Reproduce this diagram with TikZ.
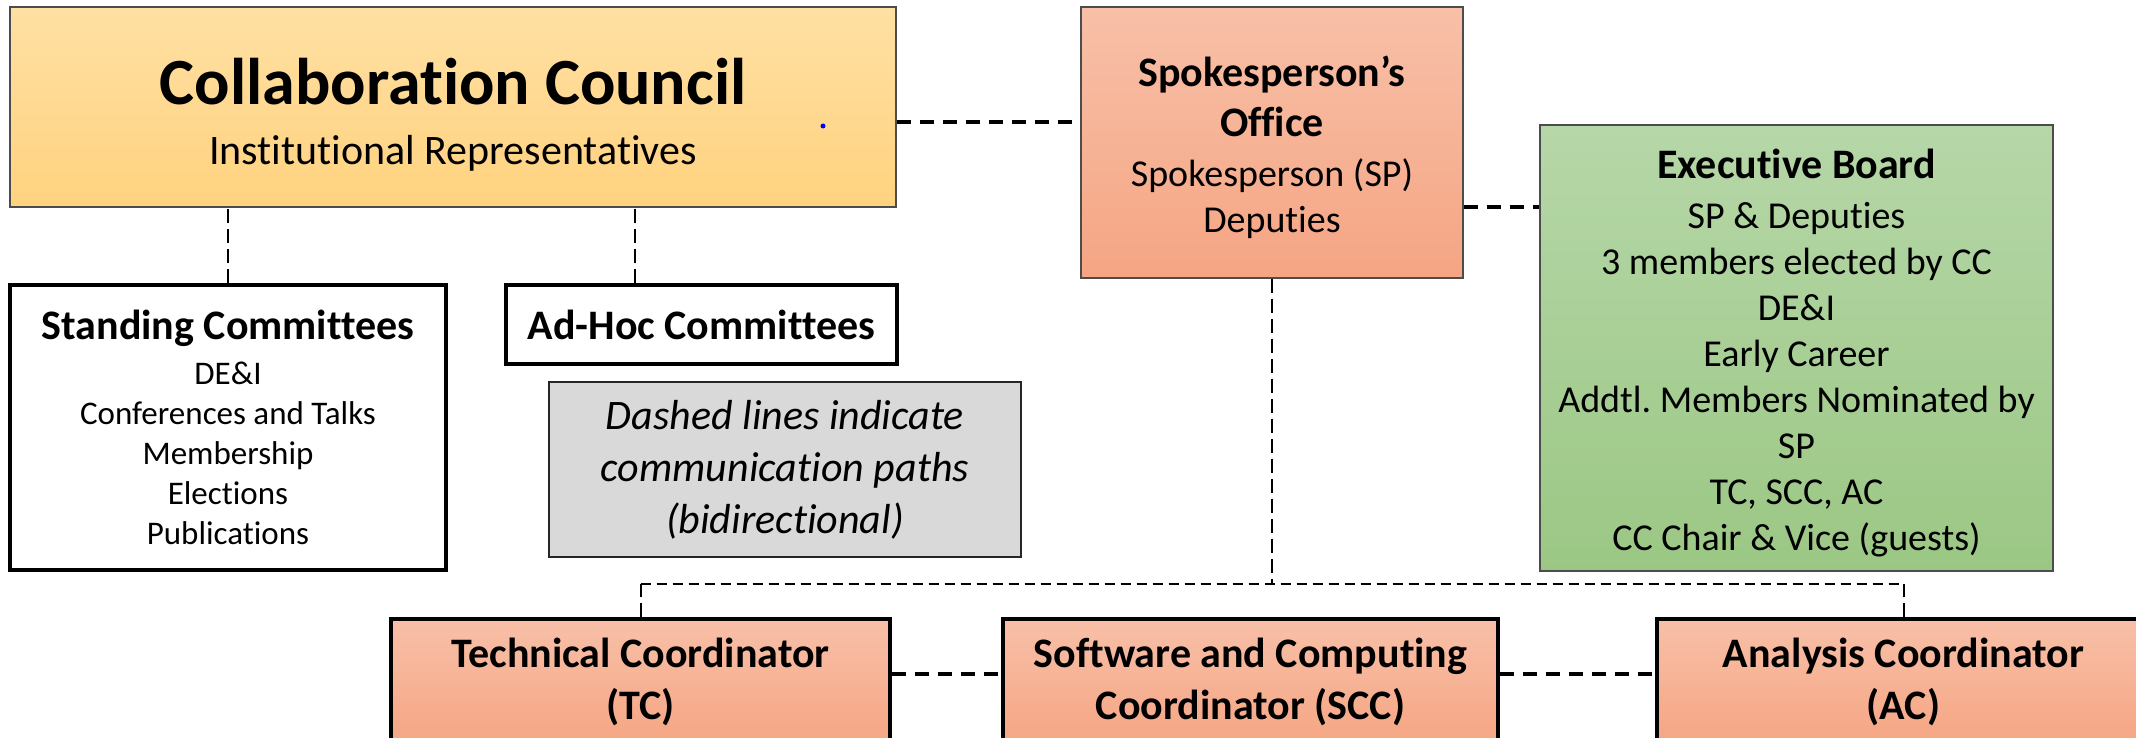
\documentclass[tikz,border=0pt]{standalone}
\usepackage{fontspec}
\setmainfont{Carlito}[Ligatures={NoCommon}]
\usetikzlibrary{positioning, calc}

\definecolor{councilTop}{HTML}{FFE0A3}
\definecolor{councilBot}{HTML}{FFD27F}
\definecolor{officeTop}{HTML}{F8C0A8}
\definecolor{officeBot}{HTML}{F5A583}
\definecolor{boardTop}{HTML}{B6D7A8}
\definecolor{boardBot}{HTML}{9BC784}
\definecolor{noteGray}{HTML}{D9D9D9}

\newcommand{\headline}[1]{{\fontsize{21}{25}\selectfont\bfseries #1}}

\begin{document}
\frenchspacing
\begin{tikzpicture}[
    x=0.5pt, y=-0.5pt,
    font=\fontsize{19}{23}\selectfont,
    box/.style={rectangle, inner sep=0pt, align=center},
    council/.style={box, draw=black!70, line width=0.75pt, top color=councilTop, bottom color=councilBot},
    office/.style={box, draw=black!70, line width=0.6pt, top color=officeTop, bottom color=officeBot},
    board/.style={box, draw=black!70, line width=0.6pt, top color=boardTop, bottom color=boardBot},
    committee/.style={box, draw=black, line width=1.75pt, fill=white},
    coord/.style={box, draw=black, line width=1.75pt, top color=officeTop, bottom color=officeBot, minimum height=63pt, font=\fontsize{21}{26}\selectfont\bfseries},
    note/.style={box, draw=black!85, line width=1.25pt, fill=noteGray, font=\fontsize{21}{26}\selectfont\itshape},
    link/.style={draw=black, line width=1.75pt, dash pattern=on 7pt off 4.5pt},
    comm/.style={draw=black, line width=1pt, dash pattern=on 7pt off 3pt},
    bus/.style={draw=black, line width=1.1pt, dash pattern=on 5pt off 3pt},
]
\useasboundingbox (0,0) rectangle (2136,738);
\clip (0,0) rectangle (2136,738);

% Council and its committees
\node[council, minimum width=443pt, minimum height=100pt, font=\fontsize{21}{30}\selectfont] (CC) at (453,107)
    {\rule{0pt}{31pt}{\fontsize{33}{40}\selectfont\bfseries Collaboration Council}\\Institutional Representatives};
\fill[blue] (823,126) circle (2.5);

\node[committee, minimum width=218pt, minimum height=142.5pt, font=\fontsize{16.5}{20}\selectfont] (SC) at (228,427.5)
    {\headline{Standing Committees}\\[2.5pt]DE\&I\\Conferences and Talks\\Membership\\Elections\\Publications};
\node[committee, minimum width=195.5pt, minimum height=39.5pt, font=\fontsize{21}{25}\selectfont\bfseries] (AH) at (701.5,324.5)
    {Ad-Hoc Committees};

% Legend
\node[note, minimum width=236pt, minimum height=87.5pt] (NT) at (785,469.5)
    {Dashed lines indicate\\communication paths\\(bidirectional)};

% Spokesperson and board
\node[office, minimum width=191pt, minimum height=135.5pt] (SP) at (1272,142.5)
    {\rule{0pt}{20pt}\headline{Spokesperson's}\\[2pt]\headline{Office}\\[2pt]Spokesperson (SP)\\Deputies};
\node[board, minimum width=256.5pt, minimum height=223pt] (EB) at (1796.5,348)
    {\rule{0pt}{20pt}\headline{Executive Board}\\[2pt]SP \& Deputies\\3 members elected by CC\\DE\&I\\Early Career\\Addtl.\ Members Nominated by\\SP\\TC, SCC, AC\\CC Chair \& Vice (guests)};

% Coordinators
\node[coord, minimum width=249.5pt] (TC) at (640.5,682) {Technical Coordinator\\(TC)};
\node[coord, minimum width=247.5pt] (SCC) at (1250.5,682) {Software and Computing\\Coordinator (SCC)};
\node[coord, minimum width=246.5pt] (AC) at (1903.5,682) {Analysis Coordinator\\(AC)};

% Communication paths
\coordinate (cc-sp) at ($(CC.east)+(0,15)$);
\draw[link] (cc-sp) -- (cc-sp -| SP.west);
\draw[comm] (SC.north) -- (SC.north |- CC.south);
\coordinate (cc-ah) at ($(AH.north)+(-66.5,0)$);
\draw[comm] (cc-ah) -- (cc-ah |- CC.south);

\coordinate (sp-eb) at ($(SP.east)+(0,64.5)$);
\draw[link] (sp-eb) -- (sp-eb -| EB.west);

\coordinate (bus) at ($(SP.south)+(0,305)$);
\draw[comm] (SP.south) -- (bus);
\draw[bus] (TC.north |- bus) -- (AC.north |- bus);
\draw[comm] (TC.north) -- (TC.north |- bus);
\draw[comm] (AC.north) -- (AC.north |- bus);

\coordinate (tc-scc) at ($(TC.east)+(0,-8)$);
\draw[link] (tc-scc) -- (tc-scc -| SCC.west);
\coordinate (scc-ac) at ($(SCC.east)+(0,-8)$);
\draw[link] (scc-ac) -- (scc-ac -| AC.west);

\end{tikzpicture}
\end{document}
